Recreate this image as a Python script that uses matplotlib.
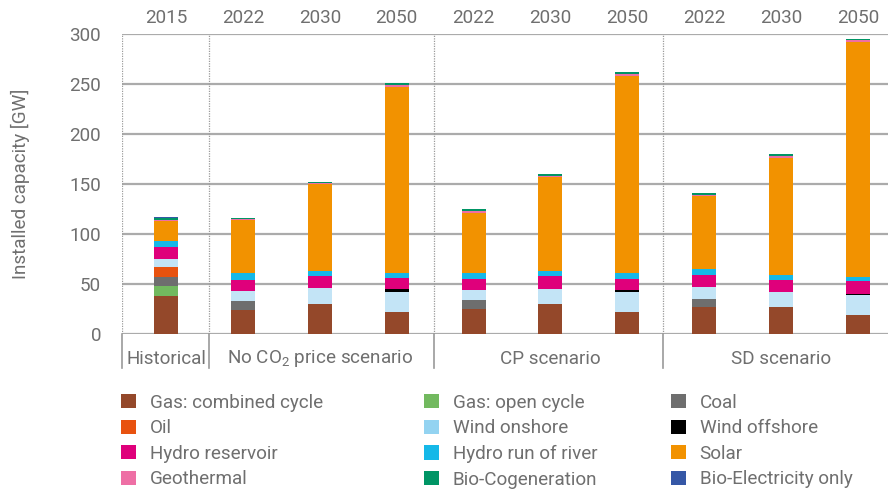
import numpy as np
import matplotlib
matplotlib.use("Agg")
import matplotlib.pyplot as plt
from matplotlib.patches import Patch

plt.rcParams["font.family"] = ["Roboto", "DejaVu Sans"]
plt.rcParams["mathtext.default"] = "regular"

# --- data (GW) ---------------------------------------------------------------
years = ["2015", "2022", "2030", "2050", "2022", "2030", "2050", "2022", "2030", "2050"]
groups = ["Historical", "No CO$_2$ price scenario", "CP scenario", "SD scenario"]
group_bars = [(0, 0), (1, 3), (4, 6), (7, 9)]

techs = ["Gas: combined cycle", "Gas: open cycle", "Coal",
         "Oil", "Wind onshore", "Wind offshore",
         "Hydro reservoir", "Hydro run of river", "Solar",
         "Geothermal", "Bio-Cogeneration", "Bio-Electricity only"]

gas_cc = [38, 24, 30, 22, 25, 30, 22, 27, 27, 19]
gas_oc = [10, 0, 0, 0, 0, 0, 0, 0, 0, 0]
coal = [9, 9, 0, 0, 9, 0, 0, 8, 0, 0]
oil = [10, 0, 0, 0, 0, 0, 0, 0, 0, 0]
wind_on = [8, 10, 16, 20, 10, 15, 20, 12, 15, 20]
wind_off = [0, 0, 0, 3, 0, 0, 2, 0, 0, 1]
hydro_res = [12, 11, 12, 11, 11, 13, 11, 12, 12, 13]
hydro_ror = [6, 6.3, 5, 5, 6, 4.3, 5.3, 6, 5, 4]
solar = [20, 53, 86.7, 186, 60, 94.7, 197.7, 72.3, 116.3, 234.3]
geothermal = [1, 1, 1, 1.3, 1.7, 0.3, 2, 1.7, 2, 2]
bio_cogen = [1.5, 1.5, 1, 2.5, 2, 2, 2, 2, 2.7, 1.7]
bio_elec = [1.7, 0, 0, 0, 0, 0, 0, 0, 0, 0]

series = [gas_cc, gas_oc, coal, oil, wind_on, wind_off,
          hydro_res, hydro_ror, solar, geothermal, bio_cogen, bio_elec]
colors = ["#94482A", "#72B95F", "#6E6E6E", "#E8520F", "#C3E4F6", "#000000",
          "#DF007B", "#15B8E8", "#F29200", "#EE6FA5", "#009565", "#3557A6"]
legend_colors = list(colors)
legend_colors[4] = "#93D3F1"

TXT = "#6f6f6f"
GRID = "#ababab"
FS = 13.6

fig = plt.figure(figsize=(8.88, 4.91), dpi=100)
ax = fig.add_axes([122 / 888, 1 - 333.7 / 491, 766 / 888, 300 / 491])

x = np.arange(len(years))
bottom = np.zeros(len(years))
for vals, col in zip(series, colors):
    v = np.array(vals, float)
    ax.bar(x, v, width=0.312, bottom=bottom, color=col, linewidth=0, zorder=3)
    bottom += v

ax.set_xlim(-0.572, 9.39)
ax.set_ylim(0, 300)
ax.set_yticks(np.arange(0, 301, 50))
ax.grid(axis="y", color=GRID, linewidth=1.6, zorder=1)
for s in ax.spines.values():
    s.set_visible(False)

ax.tick_params(axis="y", length=0, pad=15, labelsize=FS, labelcolor=TXT)
ax.xaxis.tick_top()
ax.set_xticks(x, years)
ax.tick_params(axis="x", length=0, pad=5, labelsize=FS, labelcolor=TXT)
ax.set_ylabel("Installed capacity [GW]", fontsize=FS, color=TXT)
ax.yaxis.set_label_coords(-92 / 766, 0.5)

# group dividers: dotted inside, solid below the axis
dividers = [-0.572, 0.553, 3.49, 6.47]
for d in dividers:
    ax.axvline(d, color="#9a9a9a", linestyle=(0, (1, 1)), linewidth=0.9, zorder=2)
    ax.plot([d, d], [0, -34], color="#9a9a9a", linewidth=1.2, clip_on=False)

label_x = [0.0, 2.0, 5.0, 8.0]
for name, lx in zip(groups, label_x):
    ax.text(lx, -25, name, ha="center", va="center",
            fontsize=FS, color=TXT, clip_on=False)

# legend, three columns
handles = [Patch(facecolor=c, edgecolor="none") for c in legend_colors]
col_x = [117 / 888, 420 / 888, 667 / 888]
for i, cx in enumerate(col_x):
    idx = [i, i + 3, i + 6, i + 9]
    fig.legend([handles[j] for j in idx], [techs[j] for j in idx],
               loc="upper left", bbox_to_anchor=(cx, 1 - 390 / 491),
               frameon=False, fontsize=FS, labelcolor=TXT,
               handlelength=0.78, handleheight=0.78, handletextpad=0.75,
               labelspacing=0.40, borderaxespad=0, borderpad=0.2)

fig.savefig("out.png", dpi=100)
